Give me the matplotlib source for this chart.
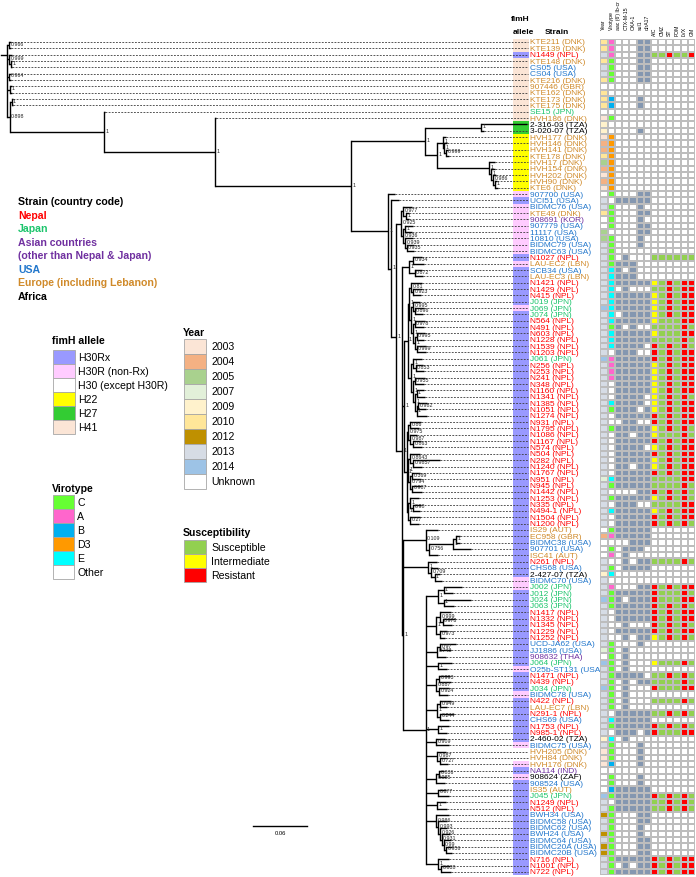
import numpy as np
import matplotlib
matplotlib.use('Agg')
import matplotlib.pyplot as plt
from matplotlib.colors import ListedColormap
from matplotlib.patches import Rectangle

plt.rcParams['font.family'] = ['Liberation Sans', 'DejaVu Sans']

# ---------------- data ----------------
strains = [
    "KTE211 (DNK)", "KTE139 (DNK)", "N1449 (NPL)", "KTE148 (DNK)", "CS05 (USA)", "CS04 (USA)",
    "KTE216 (DNK)", "907446 (GBR)", "KTE162 (DNK)", "KTE173 (DNK)", "KTE175 (DNK)", "SE15 (JPN)",
    "HVH186 (DNK)", "2-316-03 (TZA)", "3-020-07 (TZA)", "HVH177 (DNK)", "HVH146 (DNK)", "HVH141 (DNK)",
    "KTE178 (DNK)", "HVH17 (DNK)", "HVH154 (DNK)", "HVH202 (DNK)", "HVH90 (DNK)", "KTE6 (DNK)",
    "907700 (USA)", "UCI51 (USA)", "BIDMC76 (USA)", "KTE49 (DNK)", "908691 (KOR)", "907779 (USA)",
    "11117 (USA)", "10810 (USA)", "BIDMC79 (USA)", "BIDMC63 (USA)", "N1027 (NPL)", "LAU-EC2 (LBN)",
    "SCB34 (USA)", "LAU-EC3 (LBN)", "N1421 (NPL)", "N1429 (NPL)", "N415 (NPL)", "J019 (JPN)",
    "J069 (JPN)", "J074 (JPN)", "N564 (NPL)", "N491 (NPL)", "N603 (NPL)", "N1228 (NPL)",
    "N1539 (NPL)", "N1203 (NPL)", "J061 (JPN)", "N256 (NPL)", "N253 (NPL)", "N241 (NPL)",
    "N348 (NPL)", "N1160 (NPL)", "N1341 (NPL)", "N1385 (NPL)", "N1051 (NPL)", "N1274 (NPL)",
    "N931 (NPL)", "N1795 (NPL)", "N1086 (NPL)", "N1167 (NPL)", "N574 (NPL)", "N504 (NPL)",
    "N282 (NPL)", "N1240 (NPL)", "N1767 (NPL)", "N951 (NPL)", "N945 (NPL)", "N1442 (NPL)",
    "N1253 (NPL)", "N335 (NPL)", "N494-1 (NPL)", "N1504 (NPL)", "N1200 (NPL)", "IS29 (AUT)",
    "EC958 (GBR)", "BIDMC38 (USA)", "907701 (USA)", "ISC41 (AUT)", "N261 (NPL)", "CHS68 (USA)",
    "2-427-07 (TZA)", "BIDMC70 (USA)", "J002 (JPN)", "J012 (JPN)", "J024 (JPN)", "J063 (JPN)",
    "N1417 (NPL)", "N1332 (NPL)", "N1345 (NPL)", "N1229 (NPL)", "N1252 (NPL)", "UCD-JA62 (USA)",
    "JJ1886 (USA)", "908632 (THA)", "J064 (JPN)", "O25b-ST131 (USA)", "N1471 (NPL)", "N439 (NPL)",
    "J034 (JPN)", "BIDMC78 (USA)", "N422 (NPL)", "LAU-EC7 (LBN)", "N291-1 (NPL)", "CHS69 (USA)",
    "N1753 (NPL)", "N985-1 (NPL)", "2-460-02 (TZA)", "BIDMC75 (USA)", "HVH205 (DNK)", "HVH84 (DNK)",
    "HVH176 (DNK)", "NA114 (IND)", "908624 (ZAF)", "908524 (USA)", "IS35 (AUT)", "J045 (JPN)",
    "N1249 (NPL)", "N512 (NPL)", "BWH34 (USA)", "BIDMC58 (USA)", "BIDMC62 (USA)", "BWH24 (USA)",
    "BIDMC64 (USA)", "BIDMC20A (USA)", "BIDMC20B (USA)", "N716 (NPL)", "N1001 (NPL)", "N722 (NPL)",
]

fimh = [
    "H41", "H41", "H30Rx", "H41", "H41", "H41", "H41", "H41", "H41", "H41", "H41", "H41",
    "H41", "H27", "H27", "H22", "H22", "H22", "H22", "H22", "H22", "H22", "H22", "H22",
    "H30R", "H30Rx", "H30R", "H30R", "H30R", "H30R", "H30R", "H30R", "H30R", "H30R", "H30Rx", "H30R",
    "H30Rx", "H30Rx", "H30Rx", "H30Rx", "H30Rx", "H30Rx", "H30R", "H30Rx", "H30Rx", "H30Rx", "H30Rx", "H30Rx",
    "H30Rx", "H30Rx", "H30Rx", "H30Rx", "H30Rx", "H30Rx", "H30Rx", "H30Rx", "H30Rx", "H30Rx", "H30Rx", "H30Rx",
    "H30Rx", "H30Rx", "H30Rx", "H30Rx", "H30Rx", "H30Rx", "H30Rx", "H30Rx", "H30Rx", "H30Rx", "H30Rx", "H30Rx",
    "H30Rx", "H30Rx", "H30Rx", "H30Rx", "H30Rx", "H30Rx", "H30Rx", "H30Rx", "H30Rx", "H30Rx", "H30Rx", "H30Rx",
    "H30Rx", "H30R", "H30R", "H30Rx", "H30Rx", "H30Rx", "H30Rx", "H30Rx", "H30Rx", "H30Rx", "H30Rx", "H30Rx",
    "H30Rx", "H30Rx", "H30Rx", "H30R", "H30Rx", "H30Rx", "H30Rx", "H30R", "H30Rx", "H30Rx", "H30Rx", "H30Rx",
    "H30Rx", "H30Rx", "H30Rx", "H30R", "H30", "H30", "H30R", "H30Rx", "H30R", "H30Rx", "H30Rx", "H30Rx",
    "H30Rx", "H30Rx", "H30Rx", "H30Rx", "H30Rx", "H30Rx", "H30Rx", "H30Rx", "H30Rx", "H30Rx", "H30Rx", "H30Rx",
]

years = [
    "10", "10", "13", "10", "13", "13", "10", "U", "10", "10", "10", "U",
    "03", "09", "09", "03", "04", "04", "10", "05", "04", "03", "04", "03",
    "U", "13", "13", "10", "U", "U", "05", "05", "13", "13", "13", "13", "13", "13",
    "13", "13", "13", "13", "14", "13", "13", "13", "13", "13", "13", "13",
    "14", "13", "13", "13", "13", "13", "13", "13", "13", "13",
    "13", "13", "13", "13", "13", "13", "13", "13", "13", "07",
    "13", "13", "13", "13", "13", "13", "13", "U", "04", "U",
    "U", "U", "13", "13", "09", "13", "13", "13", "14", "13",
    "13", "13", "13", "13", "13", "13", "07", "U", "14", "13",
    "13", "13", "14", "13", "13", "13", "13", "13", "13", "13",
    "09", "13", "03", "03", "03", "U", "U", "U", "U", "14",
    "13", "13", "12", "13", "13", "12", "13", "12", "12", "13", "13", "13",
]

virotypes = [
    "A", "A", "A", "C", "C", "C", "C", "O", "O", "B", "B", "O",
    "C", "O", "O", "D3", "D3", "D3", "D3", "D3", "D3", "D3", "D3", "D3",
    "C", "O", "C", "C", "C", "C", "O", "C", "C", "C", "C", "C", "E", "E",
    "E", "E", "E", "E", "E", "E", "E", "C", "E", "E", "E", "O",
    "A", "A", "A", "A", "O", "O", "O", "E", "C", "O",
    "O", "C", "O", "O", "O", "O", "O", "O", "O", "E",
    "C", "O", "C", "O", "E", "O", "O", "C", "A", "O",
    "C", "A", "O", "C", "E", "O", "A", "C", "C", "C",
    "O", "O", "O", "O", "O", "C", "C", "C", "C", "C",
    "C", "C", "C", "C", "C", "C", "O", "E", "C", "O",
    "E", "C", "C", "C", "B", "O", "C", "C", "B", "C",
    "O", "C", "C", "C", "C", "C", "C", "C", "C", "C", "C", "C",
]

# presence of aac(6')Ib-cr, CTX-M-15, OXA-1, sul1, dfrA17
genes = [
    "00011", "00011", "00011", "00011", "00011", "00011", "00011", "00000", "00000", "00010", "00010", "00000",
    "00000", "00000", "00010", "00000", "00000", "00000", "00000", "00000", "00000", "00000", "00000", "00000",
    "00011", "11111", "00010", "00011", "00010", "00011", "00011", "00010", "00010", "00000", "01000", "11100", "10100", "11100",
    "11111", "01000", "11111", "11111", "11111", "01111", "11111", "10100", "11111", "11111", "11110", "11100",
    "11111", "11111", "11111", "11111", "11111", "11111", "11110", "11110", "11101", "11111",
    "01100", "11111", "11011", "11111", "11110", "11111", "11111", "11011", "11111", "11111",
    "11111", "00011", "11111", "11100", "11111", "11111", "11111", "11111", "11111", "00111",
    "01110", "01000", "01011", "01111", "00000", "00000", "00011", "11111", "10111", "11111",
    "11111", "11111", "01000", "11111", "01011", "00010", "01000", "01000", "01000", "01000",
    "11110", "01011", "01000", "01000", "01000", "01000", "11111", "11111", "11111", "11101",
    "01000", "00010", "00010", "00010", "00010", "00000", "00010", "00010", "11111", "11111",
    "11111", "11111", "00011", "00011", "00010", "00010", "00011", "00011", "00011", "11111", "01011", "11111",
]

# A/C, CMZ, ST, FOM, LVX, GM  (S/I/R, '-' = not tested)
susc = [
    "------", "------", "SSRSSR", "------", "------", "------", "------", "------", "------", "------", "------", "------",
    "------", "------", "------", "------", "------", "------", "------", "------", "------", "------", "------", "------",
    "------", "------", "------", "------", "------", "------", "------", "------", "------", "------", "SSSSSS", "------", "------", "------",
    "ISRSRR", "SSRSRR", "ISRSRR", "ISRSRR", "ISRSRR", "ISRSRR", "ISSSRR", "SSSSRS", "ISSSRR", "SSSSRS", "RSRSRS", "RSRSRR",
    "RSRSRR", "ISRSRR", "ISRSRR", "ISRSRR", "ISRSRR", "ISRSRR", "ISRSRS", "ISRSRR", "ISRSRR", "RSRSRR",
    "RSRSRR", "ISRSRS", "ISSSRS", "RSRSRR", "ISRSRR", "RSRSRR", "ISRSRR", "ISRSRR", "RSRSRR", "SSSSRR",
    "SSSSRS", "RSRSRS", "ISRSRS", "SSSSRR", "ISRSRR", "RSRSRR", "RSRSRS", "------", "------", "------",
    "------", "------", "SSSSRS", "------", "------", "------", "RSRSRR", "RSSSRS", "RSSSRR", "RSRSRS",
    "RSRSRR", "RSRSRR", "RSRSRS", "RSRSRR", "ISRSRS", "------", "------", "------", "ISSSRS", "------",
    "SSRSRS", "SSSSRS", "RSSSRR", "------", "SSSSRS", "------", "SSRSRS", "------", "RSRSRS", "RSSSRR",
    "------", "------", "------", "------", "------", "------", "------", "------", "------", "RSRSRS",
    "SSRSRS", "SSRSRS", "------", "------", "------", "------", "------", "------", "------", "RSRSRR", "RSRSRR", "RSRSRR",
]

col_labels = ["Year", "Virotype", "aac (6') Ib-cr", "CTX-M-15", "OXA-1", "sul1", "dfrA17",
              "A/C", "CMZ", "ST", "FOM", "LVX", "GM"]

# phylogeny (leaf names = row index in `strains`, internal labels = support, lengths = subst./site)
h41_1 = "(0:0.002,1:0.002)0.966"
h41_2 = "(2:0.003,(3:0.002,4:0.002)1:0.002)0.999"
h41_3 = "(5:0.002,6:0.002)0.964"
h41_4 = "(7:0.003,8:0.003)1"
h41_5 = "(9:0.002,10:0.002)1"
h22_a = "(15:0.004,(16:0.003,(17:0.002,18:0.003)0.999:0.002)1:0.002)1"
h22_b = "(19:0.006,(20:0.004,(21:0.003,(22:0.002,23:0.003)1:0.002)0.986:0.002)1:0.002)1"
h27 = "(13:0.051,14:0.003)1"
non_rx = ("((26:0.010,(27:0.004,28:0.004)1:0.003)0.977:0.002,((29:0.009,30:0.008)1:0.002,"
          "(31:0.009,(32:0.008,33:0.008)0.935:0.002)0.939:0.002)0.936:0.002)0.925")
rx_1 = "((34:0.010,35:0.012)0.934:0.004,(36:0.008,37:0.009)0.872:0.006)1"
rx_2 = ("((38:0.012,(39:0.010,40:0.009)0.923:0.002)0.81:0.002,((41:0.008,(42:0.010,43:0.009)0.896:0.002)0.995:0.002,"
        "((44:0.011,45:0.010)0.978:0.002,((46:0.009,47:0.008)0.995:0.002,(48:0.010,49:0.011)0.999:0.002)1:0.002)1:0.002)1:0.002)1")
rx_3 = ("((50:0.010,(51:0.008,52:0.009)0.853:0.003)1:0.002,((53:0.011,54:0.010)0.955:0.002,"
        "((55:0.008,56:0.009)1:0.002,((57:0.010,58:0.008)0.982:0.002,59:0.012)1:0.002)1:0.002)1:0.002)1")
rx_4 = ("(((60:0.012,61:0.010)0.86:0.002,(62:0.008,(63:0.009,64:0.010)0.863:0.003)0.987:0.002)0.975:0.002,"
        "((65:0.011,(66:0.030,67:0.010)0.9857:0.003)0.8643:0.002,((68:0.009,69:0.010)0.369:0.002,"
        "(70:0.010,71:0.011)0.987:0.002)0.794:0.002)1:0.002,((72:0.010,(73:0.009,74:0.008)0.98:0.003)1:0.002,"
        "(75:0.011,76:0.010)0.27:0.002)1:0.002)1")
rx_5 = "(77:0.014,(((78:0.004,79:0.004)1:0.003,80:0.020)1:0.027,81:0.010)0.756:0.004)0.109"
rx_6 = "(82:0.010,(83:0.008,(84:0.006,85:0.008)1:0.004)0.709:0.003)1"
rx_low = [
    ("((86:0.020,87:0.010)1:0.006,(88:0.030,89:0.012)1:0.006)1", 0.014),
    ("((90:0.012,(91:0.014,92:0.010)0.973:0.003)0.999:0.004,(93:0.008,94:0.006)0.973:0.004)1", 0.012),
    ("((95:0.018,96:0.012)0.97:0.003,97:0.010)0.743", 0.013),
    ("(98:0.015,99:0.010)1", 0.014),
    ("((100:0.012,101:0.013)0.993:0.003,(102:0.011,103:0.010)0.924:0.003)0.887", 0.012),
    ("((104:0.012,105:0.008)0.949:0.003,(106:0.016,107:0.010)0.244:0.003)1", 0.013),
    ("(108:0.012,109:0.010)1", 0.014),
    ("(110:0.010,111:0.014)0.909", 0.012),
    ("(112:0.010,(113:0.008,114:0.009)0.727:0.003)0.987", 0.013),
    ("((115:0.006,116:0.008)0.836:0.003,117:0.010)0.985", 0.012),
    ("(118:0.009,119:0.012)0.877", 0.014),
    ("(120:0.010,121:0.011)1", 0.013),
    ("(122:0.014,(123:0.010,(124:0.008,(125:0.009,(126:0.008,(127:0.006,128:0.006)0.956:0.003)0.99:0.002)"
     "0.931:0.002)0.926:0.002)0.993:0.002)0.986", 0.012),
    ("(129:0.012,(130:0.010,131:0.011)0.838:0.003)1", 0.014),
]

low_clade = "(" + ",".join(f"{s}:{l}" for s, l in rx_low) + ")1"
rx_mid = f"(({rx_2}:0.002,{rx_3}:0.004)1:0.004,{rx_4}:0.003)1"
rx_bot = f"({rx_5}:0.025,{rx_6}:0.028,{low_clade}:0.025)1"
rx = f"({rx_1}:0.008,{rx_mid}:0.002,{rx_bot}:0.001)1"
n7 = f"({non_rx}:0.006,{rx}:0.007)1"
n6 = f"(25:0.008,{n7}:0.005)1"
n4 = f"(24:0.008,{n6}:0.004)1"
n5 = f"({h27}:0.063,({h22_a}:0.006,{h22_b}:0.058)1:0.014)1"
n3 = f"({n5}:0.082,{n4}:0.041)1"
n2 = f"(12:0.001,{n3}:0.151)1"
n1 = f"(11:0.001,{n2}:0.123)1"
q = f"({h41_5}:0.002,{n1}:0.105)0.898"
newick = f"({h41_1}:0.002,{h41_2}:0.002,{h41_3}:0.002,{h41_4}:0.003,{q}:0.003);"

# ---------------- colours ----------------
year_keys = ["03", "04", "05", "07", "09", "10", "12", "13", "14", "U"]
year_names = ["2003", "2004", "2005", "2007", "2009", "2010", "2012", "2013", "2014", "Unknown"]
year_cols = ["#fbe5d6", "#f4b183", "#a9d18e", "#e2f0d9", "#fff2cc", "#ffe699", "#bf9000", "#d6dce5", "#9dc3e6", "#ffffff"]
vir_keys = ["C", "A", "B", "D3", "E", "O"]
vir_names = ["C", "A", "B", "D3", "E", "Other"]
vir_cols = ["#66ff33", "#ff66cc", "#00b0f0", "#ff9900", "#00ffff", "#ffffff"]
gene_cols = ["#ffffff", "#8497b0"]
sus_keys = ["S", "I", "R"]
sus_names = ["Susceptible", "Intermediate", "Resistant"]
sus_cols = ["#92d050", "#ffff00", "#ff0000"]
fimh_keys = ["H30Rx", "H30R", "H30", "H22", "H27", "H41"]
fimh_names = ["H30Rx", "H30R (non-Rx)", "H30 (except H30R)", "H22", "H27", "H41"]
fimh_cols = ["#9999ff", "#ffccff", "#ffffff", "#ffff00", "#33cc33", "#fbe5d6"]
country_col = {"NPL": "#ff0000", "JPN": "#1cc46c", "KOR": "#7030a0", "THA": "#7030a0", "IND": "#7030a0",
               "USA": "#2277cc", "DNK": "#d08a2a", "GBR": "#d08a2a", "AUT": "#d08a2a", "LBN": "#d08a2a",
               "TZA": "#000000", "ZAF": "#000000"}
region_text = [("Nepal", "#ff0000"), ("Japan", "#1cc46c"), ("Asian countries", "#7030a0"),
               ("(other than Nepal & Japan)", "#7030a0"), ("USA", "#2277cc"),
               ("Europe (including Lebanon)", "#d08a2a"), ("Africa", "#000000")]

# ---------------- layout helpers ----------------
W, H = 696, 878
n = len(strains)
row0, row_last = 43.0, 873.0
rh = (row_last - row0) / (n - 1)
top_px, bot_px = row0 - rh / 2, row_last + rh / 2
X0 = 7.0          # root position, px
PPU = 900.0       # px per substitution unit
def u(px):
    return (px - X0) / PPU

fig = plt.figure(figsize=(W / 100, H / 100), dpi=100)
axpos = lambda x0, x1: [x0 / W, 1 - bot_px / H, (x1 - x0) / W, (bot_px - top_px) / H]

ax_leg = fig.add_axes([0, 0, 1, 1])
ax_leg.set_xlim(0, W); ax_leg.set_ylim(H, 0); ax_leg.axis('off')

ax = fig.add_axes(axpos(0, W))
ax.set_xlim(u(0), u(W)); ax.set_ylim(n - 0.5, -0.5); ax.axis('off')
ax.patch.set_alpha(0)

# ---------------- tree ----------------
def parse_newick(s):
    pos = 0
    def node():
        nonlocal pos
        nd = {'children': [], 'label': '', 'length': 0.0}
        if s[pos] == '(':
            pos += 1
            while True:
                nd['children'].append(node())
                if s[pos] == ',':
                    pos += 1
                    continue
                pos += 1
                break
        st = pos
        while s[pos] not in ':,);':
            pos += 1
        nd['label'] = s[st:pos]
        if s[pos] == ':':
            pos += 1
            st = pos
            while s[pos] not in ',);':
                pos += 1
            nd['length'] = float(s[st:pos])
        return nd
    return node()

root = parse_newick(newick)

def layout(nd, x):
    nd['x'] = x + nd['length']
    if nd['children']:
        for c in nd['children']:
            layout(c, nd['x'])
        nd['y'] = (nd['children'][0]['y'] + nd['children'][-1]['y']) / 2
    else:
        nd['y'] = int(nd['label'])
layout(root, 0.0)

LW = 1.0
dash_end = u(528)
def draw(nd, px, is_root=False):
    if not is_root:
        ax.plot([px, nd['x']], [nd['y'], nd['y']], color='k', lw=LW, solid_capstyle='butt', zorder=3)
    if nd['children']:
        ys = [c['y'] for c in nd['children']]
        ax.plot([nd['x'], nd['x']], [min(ys), max(ys)], color='k', lw=LW, zorder=3)
        if not is_root and nd['label']:
            ax.text(nd['x'] + u(X0 + 1.5), nd['y'] - 0.3, nd['label'], fontsize=3.8,
                    color='#222222', ha='left', va='center', zorder=4)
        for c in nd['children']:
            draw(c, nd['x'])
    else:
        if nd['x'] < dash_end:
            ax.plot([nd['x'], dash_end], [nd['y'], nd['y']], color='#3a3a3a', lw=0.6,
                    ls=(0, (2.2, 1.6)), zorder=2)
draw(root, None, is_root=True)
ax.plot([u(0.5), 0], [2, 2], color='k', lw=LW, zorder=3)

# fimH column
fim_idx = np.array([fimh_keys.index(f) for f in fimh]).reshape(-1, 1)
ax.pcolormesh([u(513), u(529)], np.arange(n + 1) - 0.5, fim_idx, cmap=ListedColormap(fimh_cols),
              vmin=-0.5, vmax=len(fimh_cols) - 0.5, zorder=1)

# strain labels
for i, s in enumerate(strains):
    code = s.split('(')[-1].rstrip(')')
    ax.text(u(530), i, s, color=country_col[code], fontsize=6.0, ha='left', va='center', zorder=4)

# scale bar
ybar = (827 - row0) / rh
xb = u(253)
ax.plot([xb, xb + 0.06], [ybar, ybar], color='k', lw=1.0)
ax.text(xb + 0.03, ybar + 1.0, "0.06", fontsize=4.2, ha='center', va='center')

# ---------------- heatmap ----------------
edges = [600, 607.7, 615, 622.2, 629.4, 636.6, 643.8, 651, 658.4, 665.8, 673.2, 680.6, 688, 695.5]
all_cols = year_cols + vir_cols + gene_cols + sus_cols
M = np.zeros((n, 13))
mask = np.zeros((n, 13), dtype=bool)
for i in range(n):
    M[i, 0] = year_keys.index(years[i])
    M[i, 1] = 10 + vir_keys.index(virotypes[i])
    for j, g in enumerate(genes[i]):
        M[i, 2 + j] = 16 + int(g)
    for j, r in enumerate(susc[i]):
        if r == '-':
            mask[i, 7 + j] = True
        else:
            M[i, 7 + j] = 18 + sus_keys.index(r)
ax_hm = fig.add_axes(axpos(edges[0], edges[-1]))
ax_hm.set_xlim(edges[0], edges[-1]); ax_hm.set_ylim(n - 0.5, -0.5); ax_hm.axis('off')
ax_hm.pcolormesh(edges, np.arange(n + 1) - 0.5, np.ma.array(M, mask=mask),
                 cmap=ListedColormap(all_cols), vmin=-0.5, vmax=len(all_cols) - 0.5,
                 edgecolors='#bdbdbd', linewidth=0.35)

for j, lab in enumerate(col_labels):
    xc = (edges[j] + edges[j + 1]) / 2
    yb = 30 if j < 7 else 35.5
    ax_leg.text(xc, yb, lab, rotation=90, ha='center', va='bottom', fontsize=3.7)

# headers
ax_leg.text(520, 19.5, "fimH", fontsize=6, fontweight='bold', ha='center', va='center')
ax_leg.text(523, 32.5, "allele", fontsize=6, fontweight='bold', ha='center', va='center')
ax_leg.text(557, 32.5, "Strain", fontsize=6, fontweight='bold', ha='center', va='center')

# ---------------- legends ----------------
LF = 7.6
ax_leg.text(18, 202, "Strain (country code)", fontsize=LF, fontweight='bold', va='center')
for k, (t, c) in enumerate(region_text):
    ax_leg.text(18, 216 + 13.5 * k, t, fontsize=LF, fontweight='bold', color=c, va='center')

def legend_block(x, y_title, title, names, cols, y0, step, bw, tx):
    ax_leg.text(x - 1, y_title, title, fontsize=LF, fontweight='bold', va='center')
    for k, (nm, c) in enumerate(zip(names, cols)):
        yc = y0 + step * k
        ax_leg.add_patch(Rectangle((x, yc - step / 2), bw, step, facecolor=c,
                                   edgecolor='#a6a6a6', lw=0.6))
        ax_leg.text(tx, yc, nm, fontsize=LF, va='center')

legend_block(53, 341, "fimH allele", fimh_names, fimh_cols, 358, 14, 22, 78)
legend_block(53, 489, "Virotype", vir_names, vir_cols, 503, 14, 21, 77)
legend_block(184, 333, "Year", year_names, year_cols, 347, 15, 22, 211)
legend_block(184, 533, "Susceptibility", sus_names, sus_cols, 548, 14, 22, 211)

fig.savefig("out.png", dpi=100)
